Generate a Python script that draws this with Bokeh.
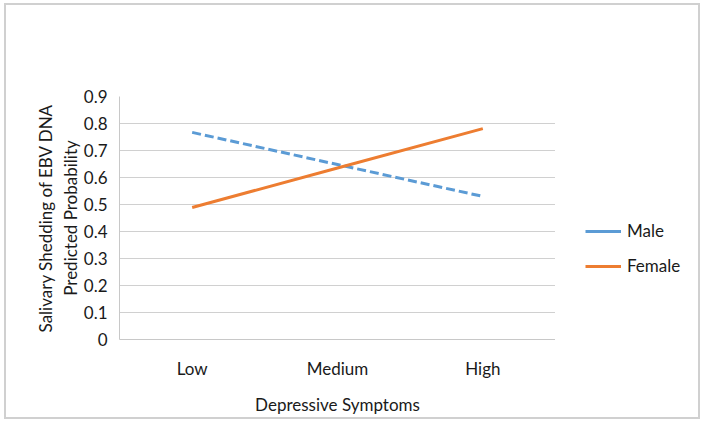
from bokeh.plotting import figure
from bokeh.models import Legend, LegendItem, FactorRange
from bokeh.layouts import row
from bokeh.embed import file_html
from bokeh.resources import INLINE

categories = ["Low", "Medium", "High"]
male = [0.767, 0.648, 0.530]
female = [0.489, 0.635, 0.781]
y_ticks = [0, 0.1, 0.2, 0.3, 0.4, 0.5, 0.6, 0.7, 0.8, 0.9]

FONT = "Lato"
TXT = "#1a1a1a"
MALE_C = "#5B9BD5"
FEMALE_C = "#ED7D31"
nan = float("nan")

p = figure(x_range=FactorRange(*categories, range_padding=0),
           y_range=(0, 0.9),
           frame_width=436, frame_height=243,
           min_border_left=113, min_border_right=0,
           min_border_top=91, min_border_bottom=76,
           output_backend="svg", toolbar_location=None)
p.outline_line_color = None

p.line(categories, male, line_color=MALE_C, line_width=3, line_dash="9 4")
p.line(categories, female, line_color=FEMALE_C, line_width=3)

p.yaxis.ticker = y_ticks
p.yaxis.major_label_overrides = {0: "0"}
p.ygrid.grid_line_color = "#d0d0d0"
p.ygrid.grid_line_width = 1
p.xgrid.grid_line_color = None

for ax in (p.xaxis, p.yaxis):
    ax.major_tick_line_color = None
    ax.minor_tick_line_color = None
    ax.axis_line_color = "#c8c8c8"
    ax.axis_line_width = 1
    ax.major_label_text_font = FONT
    ax.major_label_text_font_size = "17px"
    ax.major_label_text_color = TXT
    ax.axis_label_text_font = FONT
    ax.axis_label_text_font_size = "17px"
    ax.axis_label_text_font_style = "normal"
    ax.axis_label_text_color = TXT

p.xaxis.axis_label = "Depressive Symptoms"
p.xaxis.major_label_standoff = 12
p.xaxis.axis_label_standoff = 12
p.yaxis.axis_label = "Salivary Shedding of EBV DNA\nPredicted Probability"
p.yaxis.major_label_standoff = 6
p.yaxis.axis_label_standoff = 0

# legend-only figure to the right of the plot
pl = figure(width=143, height=410, x_range=(0, 1), y_range=(0, 1),
            min_border=0, output_backend="svg", toolbar_location=None)
pl.axis.visible = False
pl.grid.visible = False
pl.outline_line_color = None
pm = pl.line([0, 1], [nan, nan], line_color=MALE_C, line_width=3)
pf = pl.line([0, 1], [nan, nan], line_color=FEMALE_C, line_width=3)

legend = Legend(items=[LegendItem(label="Male", renderers=[pm]),
                       LegendItem(label="Female", renderers=[pf])],
                location=(30, 61), border_line_color=None,
                background_fill_alpha=0, padding=0, margin=0,
                glyph_width=36, spacing=14,
                label_text_font=FONT, label_text_font_size="17px",
                label_text_color=TXT, label_standoff=6)
pl.add_layout(legend, "center")

layout = row(p, pl, styles={"border": "2px solid #d0d0d0",
                            "margin": "3px 0 0 4px"})

open("out.html", "w").write(file_html(layout, INLINE))
